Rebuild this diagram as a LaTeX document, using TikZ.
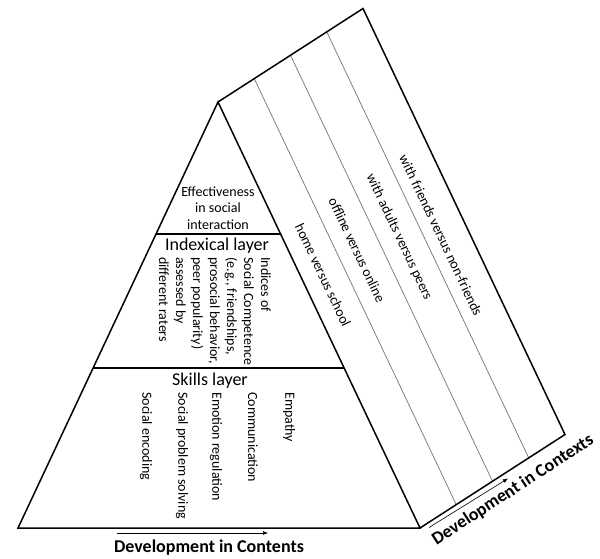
\documentclass[tikz,border=0pt]{standalone}
\usepackage{fontspec}
\setmainfont{Carlito}
\usetikzlibrary{calc,arrows.meta}
\begin{document}
\begin{tikzpicture}[x=1pt,y=-1pt,
  outer/.style={line width=1.5pt,black,line join=miter},
  inner/.style={line width=0.7pt,black!55},
  divider/.style={line width=1.3pt,black},
  txt/.style={font=\fontsize{14}{17}\selectfont,inner sep=0pt},
  ctxt/.style={txt,rotate=-64.63,anchor=center},
  skill/.style={txt,rotate=-90,anchor=west},
  layer/.style={font=\fontsize{18}{21}\selectfont,inner sep=0pt},
  devlabel/.style={font=\fontsize{18}{21}\selectfont\bfseries,inner sep=0pt},
  devarrow/.style={line width=0.6pt,-{Latex[length=5pt,width=4pt]}}]
\useasboundingbox (0,0) rectangle (600,558);
% corners
\coordinate (A) at (218,102);
\coordinate (BL) at (18,528);
\coordinate (BR) at (420,528);
\coordinate (TR) at (363,8.5);
\coordinate (PR) at (565,434.5);
% parallelogram inner lines
\foreach \k in {1,2,3}{
  \draw[inner] ($(A)!\k/4!(TR)$) -- ($(BR)!\k/4!(PR)$);
}
% parallelogram outline
\draw[outer] (A) -- (TR) -- (PR) -- (BR);
% triangle
\draw[outer] (BR) -- (A) -- (BL) -- cycle;
% dividers
\coordinate (D1L) at ($(A)!0.3099!(BL)$);
\coordinate (D1R) at ($(A)!0.3099!(BR)$);
\coordinate (D2L) at ($(A)!0.6244!(BL)$);
\coordinate (D2R) at ($(A)!0.6244!(BR)$);
\draw[divider] (D1L) -- (D1R);
\draw[divider] (D2L) -- (D2R);
% top layer
\node[txt,align=center,font=\fontsize{14}{16.5}\selectfont] (eff) at (218,208) {Effectiveness\\in social\\interaction};
% indexical layer
\node[layer] (idx) at (217,246) {Indexical layer};
\node[txt,rotate=-90,anchor=north west,align=left] (ind) at (271,257)
  {Indices of\\Social Competence\\(e.g., friendships,\\prosocial behavior,\\peer popularity)\\assessed by\\different raters};
% skills layer
\node[layer] (sk) at (210,381) {Skills layer};
\node[skill] (s1) at (289,392) {Empathy};
\node[skill] (s2) at (253,392) {Communication};
\node[skill] (s3) at (216,392) {Emotion regulation};
\node[skill] (s4) at (182,392) {Social problem solving};
\node[skill] (s5) at (146,392) {Social encoding};
% contexts
\node[ctxt] (c1) at (323,275) {home versus school};
\node[ctxt] (c2) at (357,250) {offline versus online};
\node[ctxt] (c3) at (399,237) {with adults versus peers};
\node[ctxt] (c4) at (441,235) {with friends versus non-friends};
% development in contents
\coordinate (da1) at (117,533);
\coordinate (da2) at (268,533);
\draw[devarrow] (da1) -- (da2);
\node[devlabel] (dcont) at (209,548) {Development in Contents};
% development in contexts
\coordinate (db1) at (429,527.5);
\coordinate (db2) at (508,478.5);
\draw[devarrow] (db1) -- (db2);
\node[devlabel,rotate=32.95] (dctx) at (513,490) {Development in Contexts};
\end{tikzpicture}
\end{document}
